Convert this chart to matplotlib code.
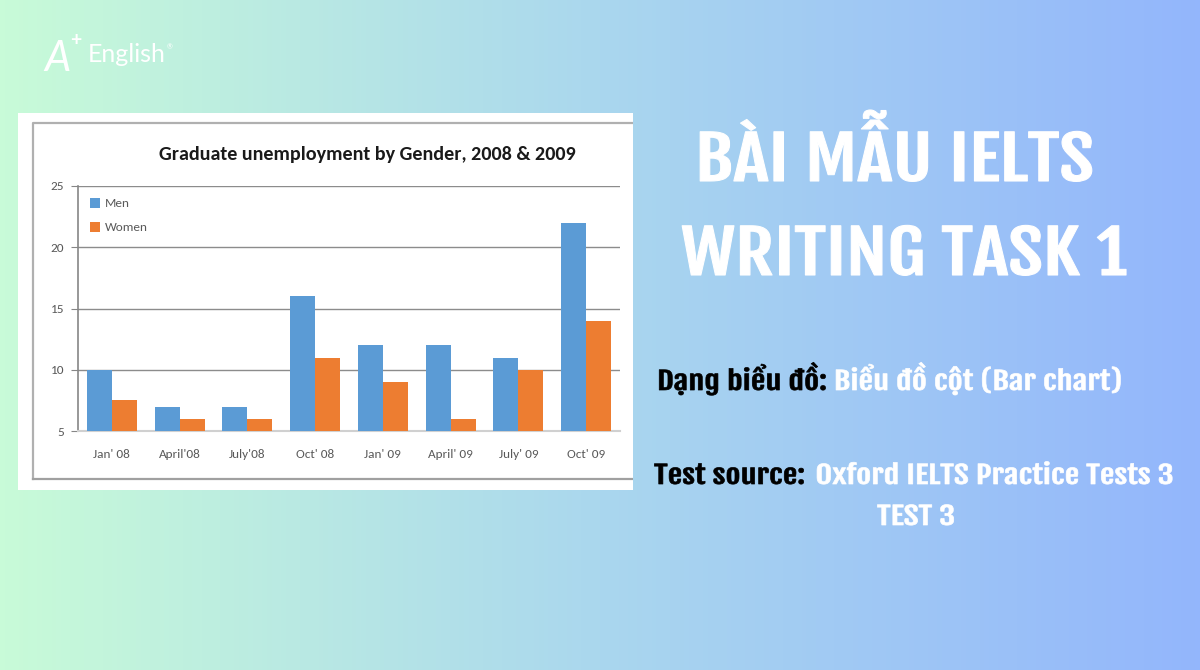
import numpy as np
import matplotlib
matplotlib.use("Agg")
import matplotlib.pyplot as plt
from matplotlib.colors import LinearSegmentedColormap
from matplotlib.patheffects import AbstractPathEffect
from matplotlib.transforms import Affine2D

# du lieu bieu do
periods = ["Jan' 08", "April'08", "July'08", "Oct' 08",
           "Jan' 09", "April' 09", "July' 09", "Oct' 09"]
men = [10, 7, 7, 16, 12, 12, 11, 22]
women = [7.5, 6, 6, 11, 9, 6, 10, 14]
yticks = [5, 10, 15, 20, 25]

title = "Graduate unemployment by Gender, 2008 & 2009"
head1 = "BÀI MẪU IELTS"
head2 = "WRITING TASK 1"

W, H = 1200, 670
BLUE = "#5B9BD5"
ORANGE = "#ED7D31"
GREY = "#595959"
COND = ["Fjalla One", "DejaVu Sans"]
CHART = ["Carlito", "Lato", "DejaVu Sans"]
LOGO = ["Lato", "DejaVu Sans"]


class Wide(AbstractPathEffect):
    # keo gian chu theo chieu ngang, to dam them mot chut
    def __init__(self, sx, lw=0.0):
        super().__init__()
        self.sx = sx
        self.lw = lw

    def draw_path(self, renderer, gc, tpath, affine, rgbFace=None):
        aff = Affine2D().scale(self.sx, 1.0) + affine
        gc0 = renderer.new_gc()
        gc0.copy_properties(gc)
        gc0.set_linewidth(self.lw)
        gc0.set_foreground(rgbFace)
        gc0.set_joinstyle("round")
        renderer.draw_path(gc0, tpath, aff, rgbFace)
        gc0.restore()


def box(l, t, r, b):
    # pixel -> figure fraction
    return [l / W, 1 - b / H, (r - l) / W, (b - t) / H]


fig = plt.figure(figsize=(W / 100, H / 100), dpi=100)

# nen gradient
bg = fig.add_axes([0, 0, 1, 1])
cmap = LinearSegmentedColormap.from_list(
    "bg", ["#C8FBD8", "#AAD7EE", "#93B6FC"])
bg.imshow(np.linspace(0, 1, 256).reshape(1, -1), cmap=cmap,
          aspect="auto", extent=[0, 1, 0, 1])
bg.set_axis_off()

# logo
fig.text(44 / W, 1 - 71 / H, "A", color="white", fontsize=30,
         style="italic", family=LOGO, va="baseline")
fig.text(70 / W, 1 - 46 / H, "+", color="white", fontsize=14,
         weight="bold", family=LOGO, va="baseline")
fig.text(88 / W, 1 - 62 / H, "English", color="white", fontsize=18,
         family=LOGO, va="baseline")
fig.text(167 / W, 1 - 49 / H, "®", color="white", fontsize=5,
         family=LOGO, va="baseline")

# khung trang
card = fig.add_axes(box(18, 113, 633, 490))
card.set_facecolor("white")
card.set_xlim(18, 633)
card.set_ylim(490, 113)
card.set_xticks([])
card.set_yticks([])
for s in card.spines.values():
    s.set_visible(False)
card.plot([33, 33, 633], [479, 123, 123], color="#B0B0B0", lw=1.6)
card.plot([33, 633], [479, 479], color="#A0A0A0", lw=1.6)

# bieu do cot
ax = fig.add_axes(box(78, 186, 620, 431))
x = np.arange(len(periods))
w = 0.37
ax.bar(x - w / 2, men, w, color=BLUE, label="Men", zorder=3)
ax.bar(x + w / 2, women, w, color=ORANGE, label="Women", zorder=3)
ax.set_xlim(-0.5, len(periods) - 0.5)
ax.set_ylim(5, 25)
ax.set_yticks(yticks)
ax.set_xticks(x)
ax.set_xticklabels(periods)
ax.set_facecolor("none")
ax.yaxis.grid(True, color="#8C8C8C", lw=1)
ax.set_axisbelow(True)
for s in ["top", "right"]:
    ax.spines[s].set_visible(False)
ax.spines["left"].set_color("#868686")
ax.spines["left"].set_linewidth(1.2)
ax.spines["bottom"].set_color("#D0D0D0")
ax.spines["bottom"].set_linewidth(1.5)
ax.tick_params(axis="y", length=5, color="#868686", labelsize=9.5,
               labelcolor=GREY, pad=5)
ax.tick_params(axis="x", length=0, labelsize=9.5, labelcolor=GREY, pad=13)
for lab in ax.get_xticklabels() + ax.get_yticklabels():
    lab.set_family(CHART)
leg = ax.legend(loc="upper left", bbox_to_anchor=(0.0, 1.0), frameon=False,
                handlelength=0.75, handleheight=0.75, handletextpad=0.4,
                labelspacing=0.95, labelcolor=GREY,
                prop={"family": CHART, "size": 9.5})

fig.text(367 / W, 1 - 160 / H, title, ha="center", va="baseline",
         fontsize=14.5, weight="bold", family=CHART, color="#1A1A1A")

# chu ben phai (Fjalla One, gian ngang)
big = dict(fontsize=42.5, family=COND, color="white", va="baseline",
           path_effects=[Wide(1.28, 0.8)])
fig.text(695 / W, 1 - 181 / H, head1, **big)
fig.text(681 / W, 1 - 275 / H, head2, **big)

SX = 1.34
small = dict(fontsize=17.5, family=COND, va="baseline",
             path_effects=[Wide(SX, 0.5)])
fig.canvas.draw()
r = fig.canvas.get_renderer()

t1 = fig.text(657 / W, 1 - 390 / H, "Dạng biểu đồ:", color="black", **small)
bb = t1.get_window_extent(r)
x2 = bb.x0 + SX * bb.width + 7
fig.text(x2 / W, 1 - 390 / H, "Biểu đồ cột (Bar chart)", color="white",
         **small)

t2 = fig.text(654 / W, 1 - 484 / H, "Test source:", color="black", **small)
bb = t2.get_window_extent(r)
x2 = bb.x0 + SX * bb.width + 10
fig.text(x2 / W, 1 - 484 / H, "Oxford IELTS Practice Tests 3",
         color="white", **small)
fig.text(877 / W, 1 - 525 / H, "TEST 3", color="white", **small)

fig.savefig("out.png", dpi=100)
